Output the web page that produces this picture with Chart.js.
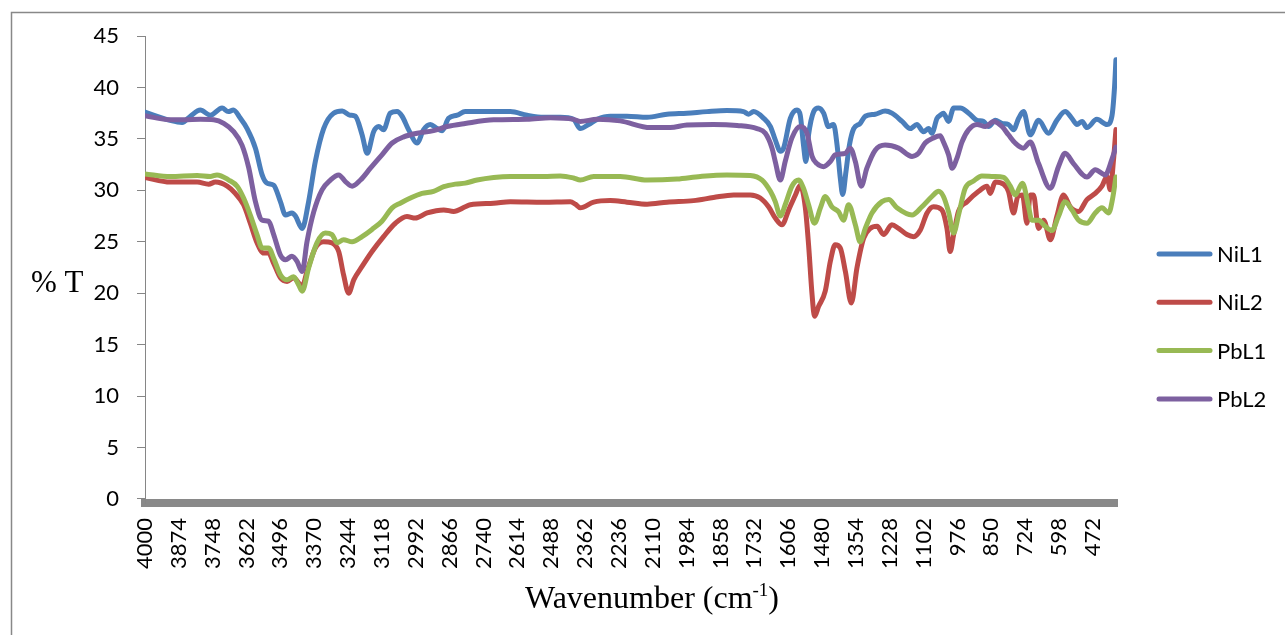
<!DOCTYPE html>
<html><head><meta charset="utf-8">
<script src="https://cdn.jsdelivr.net/npm/chart.js@4.4.0/dist/chart.umd.min.js"></script>
<style>html,body{margin:0;padding:0;background:#fff;}canvas{display:block;}</style>
</head><body>
<canvas id="c" width="1285" height="635"></canvas>
<script>
const seriesNames = ['NiL1', 'NiL2', 'PbL1', 'PbL2'];

const wnNiL1 = [4000,3906,3862,3831,3794,3757,3713,3690,3671,3645,3620,3589,3564,3546,3521,3496,3477,3453,3440,3415,3391,3366,3335,3298,3266,3236,3217,3192,3173,3149,3130,3112,3087,3062,3043,3019,2987,2963,2938,2913,2894,2870,2838,2808,2702,2640,2578,2516,2454,2405,2380,2349,2317,2268,2206,2131,2057,1983,1908,1834,1772,1753,1735,1697,1672,1654,1635,1623,1598,1573,1561,1549,1540,1530,1511,1493,1474,1456,1437,1424,1412,1403,1391,1378,1362,1338,1319,1282,1245,1220,1182,1152,1127,1102,1083,1071,1052,1040,1028,1009,990,965,934,903,879,860,835,810,786,767,748,730,705,674,637,606,575,550,531,512,494,457,419,401,391,386];
const tNiL1 = [37.6,36.8,36.6,37.2,37.8,37.3,38.0,37.65,37.8,37.0,36.0,34.1,31.5,30.7,30.5,28.9,27.6,27.8,27.5,26.3,28.9,32.8,36.0,37.5,37.7,37.3,37.2,35.4,33.6,35.7,36.2,35.9,37.5,37.65,37.2,35.9,34.6,35.9,36.4,36.0,35.8,37.0,37.3,37.65,37.65,37.65,37.3,37.1,37.1,36.9,36.0,36.4,36.9,37.2,37.2,37.1,37.4,37.5,37.65,37.75,37.65,37.4,37.65,37.0,36.2,34.9,33.8,34.1,37.0,37.8,37.3,34.4,32.8,35.4,37.65,38.0,37.5,36.2,36.4,34.4,31.2,29.6,31.8,34.4,36.0,36.5,37.2,37.4,37.7,37.5,36.7,36.0,36.4,35.7,36.0,35.55,37.0,37.3,37.5,36.7,38.0,38.0,37.5,36.8,36.7,36.2,36.8,36.5,36.4,35.9,37.0,37.65,35.4,36.8,35.55,36.8,37.65,37.0,36.4,36.7,36.1,36.9,36.4,37.2,40.1,42.7];

const wnNiL2 = [4000,3906,3806,3763,3738,3694,3664,3633,3608,3583,3558,3540,3521,3496,3471,3447,3428,3415,3397,3366,3335,3304,3279,3261,3242,3223,3192,3155,3112,3068,3025,2994,2950,2888,2851,2808,2789,2702,2640,2516,2417,2398,2380,2330,2268,2206,2131,2057,1958,1884,1809,1747,1710,1679,1654,1629,1604,1579,1561,1542,1530,1517,1508,1493,1468,1449,1431,1412,1393,1371,1350,1325,1300,1275,1251,1220,1195,1164,1139,1114,1089,1065,1034,1015,1003,990,972,940,897,866,854,835,804,786,767,751,734,717,705,693,674,655,630,606,581,556,525,494,463,438,419,407,395,386];
const tNiL2 = [31.25,30.8,30.8,30.6,30.8,30.4,29.7,28.6,26.8,24.9,23.9,23.9,22.9,21.5,21.15,21.5,21.0,20.65,22.1,24.4,25.0,24.9,24.05,21.8,20.0,21.3,22.6,24.05,25.5,26.8,27.45,27.3,27.8,28.1,27.95,28.4,28.6,28.75,28.9,28.85,28.9,28.65,28.3,28.85,29.0,28.85,28.65,28.85,29.0,29.3,29.55,29.55,29.25,28.4,27.3,26.65,28.1,29.55,30.5,28.3,24.7,19.85,17.75,18.7,20.2,23.1,24.7,24.4,22.1,19.05,22.45,25.35,26.3,26.5,25.7,26.65,26.3,25.7,25.5,26.15,27.8,28.4,28.1,26.3,24.05,25.7,27.95,28.9,29.9,30.4,29.7,30.8,30.6,29.9,27.8,29.4,29.55,26.8,29.55,29.55,26.3,27.1,25.2,27.45,29.55,28.4,27.95,29.1,29.7,30.4,31.35,30.05,32.95,35.9];

const wnPbL1 = [4000,3906,3806,3757,3732,3688,3657,3633,3608,3583,3564,3540,3521,3496,3471,3447,3428,3415,3391,3360,3329,3304,3285,3261,3229,3192,3155,3118,3080,3050,3012,2969,2926,2888,2845,2808,2764,2702,2640,2516,2454,2405,2380,2330,2231,2131,2020,1933,1834,1747,1703,1672,1654,1635,1617,1592,1567,1549,1530,1508,1486,1468,1443,1418,1400,1381,1356,1338,1319,1294,1257,1232,1201,1145,1108,1071,1046,1028,1009,990,972,947,916,885,841,804,779,761,734,711,699,674,649,624,600,575,550,525,494,463,438,413,399,386];
const tPbL1 = [31.6,31.35,31.45,31.35,31.5,31.0,30.4,29.25,27.6,25.7,24.4,24.4,23.4,21.8,21.3,21.6,20.8,20.2,22.45,24.9,25.85,25.7,24.9,25.2,25.0,25.5,26.2,27.0,28.3,28.75,29.25,29.7,29.9,30.35,30.6,30.7,31.0,31.25,31.35,31.35,31.4,31.2,31.0,31.35,31.35,31.0,31.1,31.35,31.5,31.45,31.0,29.9,28.9,27.5,28.6,30.4,31.0,30.2,28.6,26.8,28.3,29.4,28.4,27.9,27.1,28.6,26.65,25.0,26.3,27.8,28.9,29.1,28.3,27.6,28.4,29.4,29.9,29.4,27.9,25.85,27.6,30.2,30.9,31.4,31.35,31.25,30.4,29.55,30.7,28.4,27.1,27.1,26.5,26.1,27.45,28.9,28.1,27.1,26.8,27.8,28.3,27.8,29.1,31.3];

const wnPbL2 = [4000,3906,3856,3794,3744,3707,3670,3639,3614,3589,3564,3540,3521,3496,3477,3453,3434,3415,3397,3372,3341,3310,3279,3254,3229,3198,3161,3118,3080,3037,2987,2926,2876,2808,2702,2578,2491,2405,2380,2317,2231,2119,2045,1983,1884,1796,1722,1691,1666,1654,1635,1617,1592,1561,1536,1517,1499,1474,1449,1431,1393,1375,1356,1334,1313,1282,1245,1195,1145,1121,1096,1065,1040,1028,1009,996,978,959,934,903,872,841,810,786,761,730,705,674,630,600,575,544,494,463,426,401,386];
const tPbL2 = [37.25,36.85,36.85,36.9,36.85,36.5,35.7,34.4,32.2,28.9,27.1,27.0,25.7,23.7,23.25,23.6,23.1,22.1,25.0,27.9,30.05,31.0,31.5,30.85,30.4,31.0,32.15,33.45,34.6,35.2,35.55,35.8,36.2,36.5,36.85,36.9,37.05,36.9,36.7,36.9,36.75,36.1,36.1,36.35,36.4,36.3,36.0,35.55,34.1,32.8,31.0,32.8,35.1,36.2,35.55,33.3,32.6,32.3,32.8,33.45,33.6,34.1,32.8,30.4,32.15,33.9,34.4,34.1,33.3,33.6,34.6,35.1,35.3,34.7,33.45,32.15,33.1,34.7,35.9,36.4,36.2,36.7,36.2,35.4,34.6,34.1,34.7,32.6,30.2,32.3,33.6,32.6,31.3,32.0,31.5,33.0,34.2];

const xTickLabels = [4000,3874,3748,3622,3496,3370,3244,3118,2992,2866,2740,2614,2488,2362,2236,2110,1984,1858,1732,1606,1480,1354,1228,1102,976,850,724,598,472];
const yTickValues = [0,5,10,15,20,25,30,35,40,45];

const colors = ['#4A7EBB', '#BE4B48', '#98B954', '#7D60A0'];
const wnSets = [wnNiL1, wnNiL2, wnPbL1, wnPbL2];
const tSets = [tNiL1, tNiL2, tPbL1, tPbL2];

const datasets = seriesNames.map((name, i) => ({
  label: name,
  data: wnSets[i].map((w, k) => ({x: w, y: tSets[i][k]})),
  borderColor: colors[i],
  backgroundColor: colors[i],
  borderWidth: 5,
  pointRadius: 0,
  fill: false,
  cubicInterpolationMode: 'monotone',
  borderCapStyle: 'round',
  borderJoinStyle: 'round',
  order: 4 - i
}));

const decor = {
  id: 'decor',
  beforeDraw(chart) {
    const ctx = chart.ctx;
    ctx.save();
    ctx.fillStyle = '#fff';
    ctx.fillRect(0, 0, chart.width, chart.height);
    ctx.strokeStyle = '#888888';
    ctx.lineWidth = 1.5;
    ctx.strokeRect(11.5, 12.5, 1300, 660);
    ctx.restore();
  },
  afterDraw(chart) {
    const ctx = chart.ctx;
    ctx.save();
    ctx.fillStyle = '#000';
    ctx.textBaseline = 'alphabetic';
    ctx.textAlign = 'left';
    ctx.font = '31px "Liberation Serif"';
    ctx.fillText('% T', 31, 292);
    let x = 525;
    const base = 608;
    ctx.font = '32px "Liberation Serif"';
    const t1 = 'Wavenumber (cm';
    ctx.fillText(t1, x, base);
    x += ctx.measureText(t1).width;
    ctx.font = '19px "Liberation Serif"';
    ctx.fillText('-1', x, base - 12);
    x += ctx.measureText('-1').width;
    ctx.font = '32px "Liberation Serif"';
    ctx.fillText(')', x, base);
    ctx.font = '22px Lato';
    ctx.textBaseline = 'middle';
    seriesNames.forEach((name, i) => {
      const ly = 254 + i * 48.3;
      ctx.strokeStyle = colors[i];
      ctx.lineWidth = 5;
      ctx.lineCap = 'round';
      ctx.beginPath();
      ctx.moveTo(1159, ly);
      ctx.lineTo(1210, ly);
      ctx.stroke();
      ctx.fillStyle = '#000';
      ctx.fillText(name, 1217, ly + 1);
    });
    ctx.restore();
  }
};

new Chart(document.getElementById('c'), {
  type: 'line',
  data: { datasets },
  plugins: [decor],
  options: {
    responsive: false,
    animation: false,
    devicePixelRatio: 1,
    layout: { padding: { left: 0, right: 168, top: 36, bottom: 0 } },
    plugins: { legend: { display: false }, tooltip: { enabled: false } },
    scales: {
      x: {
        type: 'linear',
        reverse: true,
        min: 382,
        max: 4000,
        afterBuildTicks: s => { s.ticks = xTickLabels.map(v => ({ value: v })); },
        afterFit: s => { s.height = 132; },
        border: { color: '#898989', width: 8 },
        grid: { display: false, drawTicks: false },
        ticks: {
          autoSkip: false, minRotation: 90, maxRotation: 90, padding: 15,
          font: { family: 'Lato', size: 22 }, color: '#000',
          callback: v => String(v)
        }
      },
      y: {
        min: -0.39,
        max: 45,
        afterBuildTicks: s => { s.ticks = yTickValues.map(v => ({ value: v })); },
        afterFit: s => { s.width = 145; },
        border: { color: '#868686', width: 1 },
        grid: { drawOnChartArea: false, drawTicks: true, tickLength: 8, color: '#868686' },
        ticks: { padding: 18, font: { family: 'Lato', size: 22 }, color: '#000', callback: v => String(v) }
      }
    }
  }
});
</script>
</body></html>
